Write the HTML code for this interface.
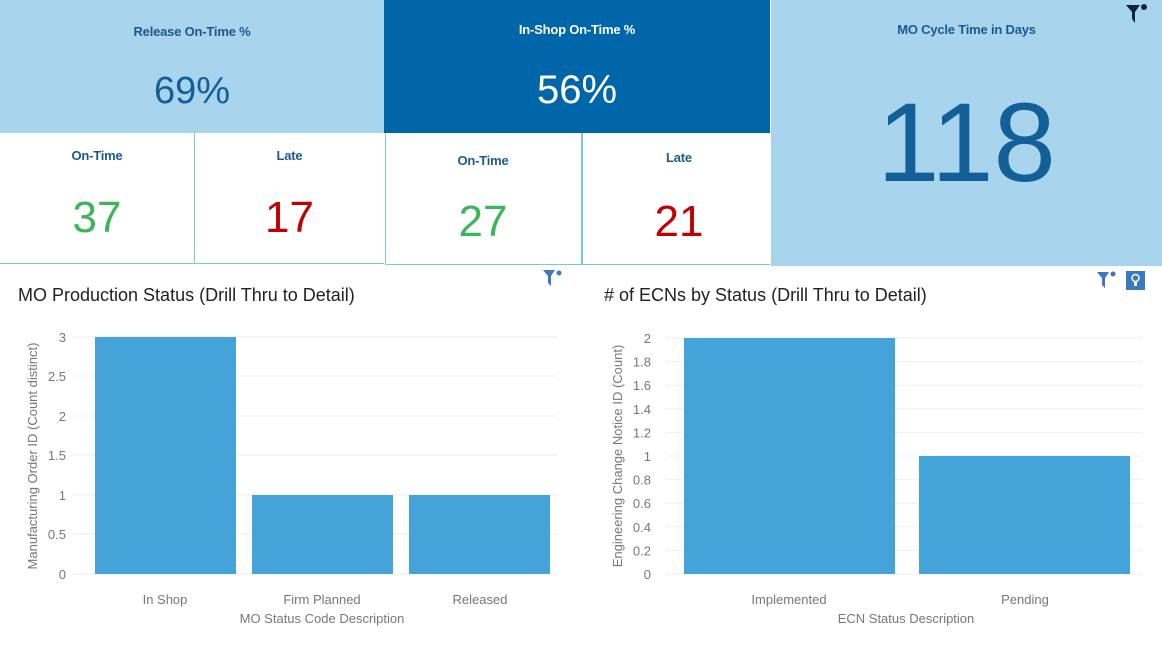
<!DOCTYPE html>
<html><head><style>
body{margin:0;width:1162px;height:648px;background:#fff;font-family:"Liberation Sans",sans-serif;position:relative;overflow:hidden}
.a{position:absolute}
.t{font-weight:bold;font-size:13px;text-align:center;letter-spacing:-0.2px}
.n{text-align:center}
</style></head><body>
<div class="a" style="left:0;top:0;width:384px;height:133px;background:#a8d4ee"></div>
<div class="a t" style="left:0;top:24px;width:384px;color:#1d5a8c">Release On-Time %</div>
<div class="a n" style="left:0;top:70px;width:384px;font-size:38px;color:#135f98">69%</div>
<div class="a" style="left:384px;top:0;width:386px;height:133px;background:#0066aa"></div>
<div class="a t" style="left:384px;top:22px;width:386px;color:#fff">In-Shop On-Time %</div>
<div class="a n" style="left:384px;top:68px;width:386px;font-size:40px;color:#fff">56%</div>
<div class="a" style="left:771px;top:0;width:391px;height:266px;background:#a8d4ee"></div>
<div class="a t" style="left:771px;top:22px;width:391px;color:#1d5a8c">MO Cycle Time in Days</div>
<div class="a n" style="left:771px;top:78px;width:391px;font-size:112px;color:#135f98;line-height:130px">118</div>
<svg class="a" style="left:1124px;top:3px" width="24" height="22"><path d="M2 2h14l-5 7v11l-3-4v-7z" fill="#0a2540"/><circle cx="20" cy="4" r="3" fill="#0a2540"/></svg>
<!-- sub boxes -->
<div class="a" style="left:0;top:133px;width:194px;height:130px;border-right:1px solid #7cc3e6;border-bottom:1px solid #7cc3e6"></div>
<div class="a" style="left:195px;top:133px;width:189px;height:130px;border-bottom:1px solid #7cc3e6"></div>
<div class="a" style="left:385px;top:133px;width:195px;height:131px;border-right:2px solid #7cc3e6;border-left:1px solid #7cc3e6;border-bottom:1px solid #7cc3e6"></div>
<div class="a" style="left:582px;top:133px;width:188px;height:131px;border-bottom:1px solid #7cc3e6"></div>
<div class="a t" style="left:0;top:148px;width:194px;color:#1d5a8c">On-Time</div>
<div class="a t" style="left:195px;top:148px;width:189px;color:#1d5a8c">Late</div>
<div class="a t" style="left:385px;top:153px;width:196px;color:#1d5a8c">On-Time</div>
<div class="a t" style="left:582px;top:150px;width:194px;color:#1d5a8c">Late</div>
<div class="a n" style="left:0;top:193px;width:194px;font-size:44px;color:#3cb55a">37</div>
<div class="a n" style="left:195px;top:193px;width:189px;font-size:44px;color:#c00000">17</div>
<div class="a n" style="left:385px;top:197px;width:196px;font-size:44px;color:#3cb55a">27</div>
<div class="a n" style="left:582px;top:197px;width:194px;font-size:44px;color:#c00000">21</div>
<!-- charts -->
<svg class="a" style="left:0;top:266px" width="1162" height="382" font-family="Liberation Sans, sans-serif">
<text x="18" y="35" font-size="18" fill="#222">MO Production Status (Drill Thru to Detail)</text>
<text x="604" y="35" font-size="18" fill="#222">#  of ECNs by Status (Drill Thru to Detail)</text>
<path d="M543 4h12l-4 6v10l-3-3v-7z" fill="#3a78c3"/><circle cx="559" cy="7" r="2.5" fill="#3a78c3"/>
<path d="M1097 6h12l-4 6v10l-3-3v-7z" fill="#3a78c3"/><circle cx="1113" cy="8" r="2.5" fill="#3a78c3"/>
<rect x="1126" y="5" width="19" height="19" fill="#3a78c3"/><circle cx="1135.5" cy="12" r="3.5" fill="none" stroke="#fff" stroke-width="1.5"/><rect x="1134" y="16" width="3" height="4" fill="#fff"/>
<g stroke="#eee" stroke-width="1">
<line x1="73" x2="558" y1="71" y2="71"/><line x1="73" x2="558" y1="110" y2="110"/><line x1="73" x2="558" y1="150" y2="150"/><line x1="73" x2="558" y1="189" y2="189"/><line x1="73" x2="558" y1="229" y2="229"/><line x1="73" x2="558" y1="268" y2="268"/><line x1="73" x2="558" y1="308" y2="308"/>
<line x1="666" x2="1142" y1="72" y2="72"/><line x1="666" x2="1142" y1="95.6" y2="95.6"/><line x1="666" x2="1142" y1="119.2" y2="119.2"/><line x1="666" x2="1142" y1="142.8" y2="142.8"/><line x1="666" x2="1142" y1="166.4" y2="166.4"/><line x1="666" x2="1142" y1="190" y2="190"/><line x1="666" x2="1142" y1="213.6" y2="213.6"/><line x1="666" x2="1142" y1="237.2" y2="237.2"/><line x1="666" x2="1142" y1="260.8" y2="260.8"/><line x1="666" x2="1142" y1="284.4" y2="284.4"/><line x1="666" x2="1142" y1="308" y2="308"/>
</g>
<g fill="#44a3d8">
<rect x="95" y="71" width="141" height="237"/><rect x="252" y="229" width="141" height="79"/><rect x="409" y="229" width="141" height="79"/>
<rect x="684" y="72" width="211" height="236"/><rect x="919" y="190" width="211" height="118"/>
</g>
<g font-size="13" fill="#777" text-anchor="end">
<text x="66" y="76">3</text><text x="66" y="115">2.5</text><text x="66" y="155">2</text><text x="66" y="194">1.5</text><text x="66" y="234">1</text><text x="66" y="273">0.5</text><text x="66" y="313">0</text>
<text x="651" y="77">2</text><text x="651" y="100.6">1.8</text><text x="651" y="124.2">1.6</text><text x="651" y="147.8">1.4</text><text x="651" y="171.4">1.2</text><text x="651" y="195">1</text><text x="651" y="218.6">0.8</text><text x="651" y="242.2">0.6</text><text x="651" y="265.8">0.4</text><text x="651" y="289.4">0.2</text><text x="651" y="313">0</text>
</g>
<g font-size="13" fill="#777" text-anchor="middle">
<text x="165" y="338">In Shop</text><text x="322" y="338">Firm Planned</text><text x="480" y="338">Released</text>
<text x="322" y="357">MO Status Code Description</text>
<text x="789" y="338">Implemented</text><text x="1025" y="338">Pending</text>
<text x="906" y="357">ECN Status Description</text>
<text transform="translate(37,190) rotate(-90)">Manufacturing Order ID (Count distinct)</text>
<text transform="translate(622,190) rotate(-90)">Engineering Change Notice ID (Count)</text>
</g>
</svg>
</body></html>
